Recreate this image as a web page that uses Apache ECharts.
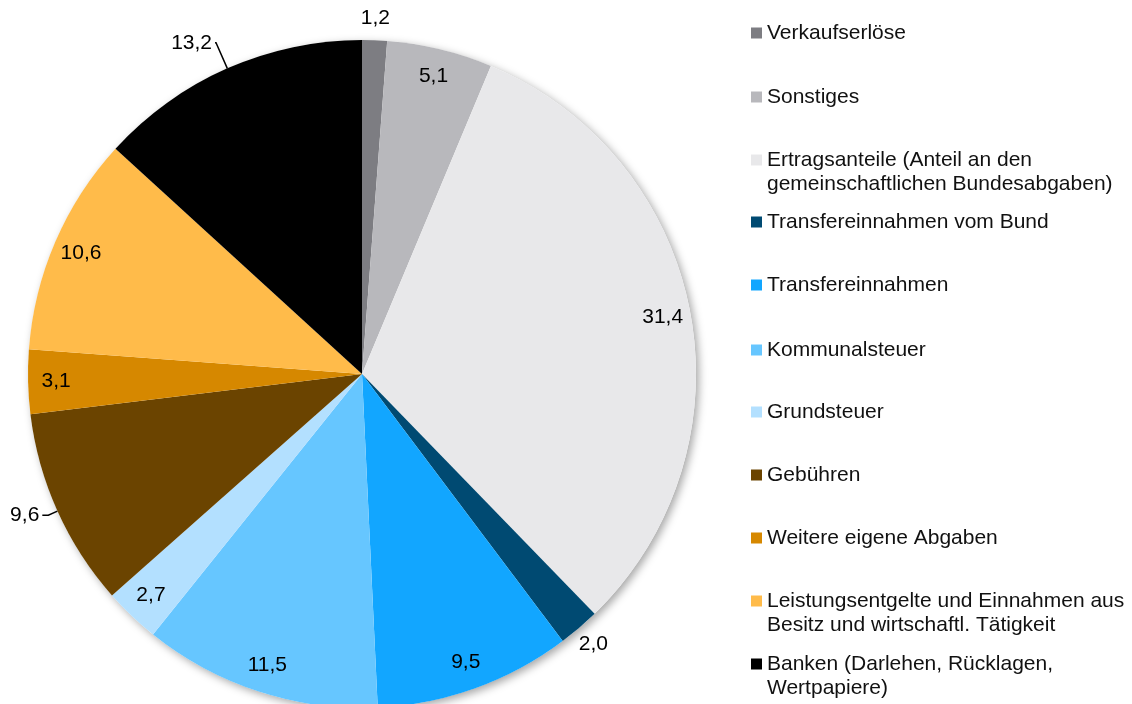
<!DOCTYPE html>
<html>
<head>
<meta charset="utf-8">
<script src="https://cdn.jsdelivr.net/npm/echarts@6/dist/echarts.min.js"></script>
<style>
  html, body { margin: 0; padding: 0; background: #fff; }
  #chart { width: 1132px; height: 704px; }
</style>
</head>
<body>
<div id="chart"></div>
<script>
var names = [
    'Verkaufserlöse',
    'Sonstiges',
    'Ertragsanteile (Anteil an den gemeinschaftlichen Bundesabgaben)',
    'Transfereinnahmen vom Bund',
    'Transfereinnahmen',
    'Kommunalsteuer',
    'Grundsteuer',
    'Gebühren',
    'Weitere eigene Abgaben',
    'Leistungsentgelte und Einnahmen aus Besitz und wirtschaftl. Tätigkeit',
    'Banken (Darlehen, Rücklagen, Wertpapiere)'
];
var legendText = [
    'Verkaufserlöse',
    'Sonstiges',
    'Ertragsanteile (Anteil an den\ngemeinschaftlichen Bundesabgaben)',
    'Transfereinnahmen vom Bund',
    'Transfereinnahmen',
    'Kommunalsteuer',
    'Grundsteuer',
    'Gebühren',
    'Weitere eigene Abgaben',
    'Leistungsentgelte und Einnahmen aus\nBesitz und wirtschaftl. Tätigkeit',
    'Banken (Darlehen, Rücklagen,\nWertpapiere)'
];
var values = [1.2, 5.1, 31.4, 2.0, 9.5, 11.5, 2.7, 9.6, 3.1, 10.6, 13.2];
var colors = ['#7d7d82', '#b8b8bc', '#e8e8ea', '#004a72', '#12a6ff', '#66c6ff',
              '#b3e0ff', '#6b4400', '#d68800', '#ffbb4a', '#000000'];

// label placement: 'in' = near the rim inside, 'out' = just outside, 'line' = with leader line
var labelPlace = ['out', 'in', 'in', 'out', 'in', 'in', 'in', 'line', 'in', 'in', 'line'];

var cx = 362, cy = 374, R = 334;
var fontFamily = 'Arial, "Liberation Sans", sans-serif';

function fmt(p) {
    return p.value.toFixed(1).replace('.', ',');
}

var labelFont = { fontFamily: fontFamily, fontSize: 21, color: '#000' };

var mainData = names.map(function (n, i) {
    var item = { name: n, value: values[i], itemStyle: { color: colors[i] } };
    if (labelPlace[i] === 'line') {
        item.label = { show: true };
        item.labelLine = { show: true };
    }
    return item;
});
// leader line lengths
mainData[10].labelLine.length = 28;
mainData[10].labelLine.length2 = 1;
mainData[7].labelLine.length = 10;
mainData[7].labelLine.length2 = 6;

function ringData(place) {
    return names.map(function (n, i) {
        return {
            name: n,
            value: values[i],
            itemStyle: { color: 'rgba(0,0,0,0)' },
            label: { show: labelPlace[i] === place }
        };
    });
}

// legend rows (first-line centre, px)
var legendRows = [33, 97, 160, 222, 285, 350, 412, 475, 538, 601, 664];
var legends = names.map(function (n, i) {
    var lines = legendText[i].split('\n');
    var twoLines = lines.length > 1;
    return {
        data: [n],
        orient: 'vertical',
        left: 751,
        top: legendRows[i] - (twoLines ? 36 : 12),
        padding: 0,
        itemWidth: 11,
        itemHeight: 11,
        icon: 'rect',
        selectedMode: false,
        formatter: function () {
            // an empty first line keeps the marker level with the first text line
            return twoLines ? '{s| }\n{t|' + lines[0] + '}\n{t|' + lines[1] + '}' : lines[0];
        },
        textStyle: {
            fontFamily: fontFamily,
            fontSize: 21,
            lineHeight: 24,
            color: '#111',
            rich: {
                s: { fontSize: 21, lineHeight: 24 },
                t: { fontFamily: fontFamily, fontSize: 21, lineHeight: 24, color: '#111' }
            }
        }
    };
});

var option = {
    backgroundColor: '#fff',
    animation: false,
    legend: legends,
    series: [
        {
            // soft shadow under the whole pie
            type: 'pie',
            center: [cx, cy],
            radius: R,
            silent: true,
            z: 1,
            label: { show: false },
            labelLine: { show: false },
            itemStyle: {
                color: '#fff',
                shadowBlur: 8,
                shadowColor: 'rgba(0,0,0,0.35)',
                shadowOffsetX: 3,
                shadowOffsetY: 3
            },
            data: [{ name: 'shadow', value: 1 }]
        },
        {
            type: 'pie',
            center: [cx, cy],
            radius: R,
            startAngle: 90,
            clockwise: true,
            z: 2,
            avoidLabelOverlap: false,
            silent: true,
            label: Object.assign({ show: false, position: 'outside', formatter: fmt, distanceToLabelLine: 3 }, labelFont),
            labelLine: { show: false, smooth: false, lineStyle: { color: '#000', width: 1.5 } },
            data: mainData
        },
        {
            type: 'pie',
            center: [cx, cy],
            radius: [R - 62, R],
            z: 3,
            silent: true,
            avoidLabelOverlap: false,
            label: Object.assign({ position: 'inside', formatter: fmt }, labelFont),
            labelLine: { show: false },
            data: ringData('in')
        },
        {
            type: 'pie',
            center: [cx, cy],
            radius: [R, R + 38],
            z: 3,
            silent: true,
            avoidLabelOverlap: false,
            label: Object.assign({ position: 'inside', formatter: fmt }, labelFont),
            labelLine: { show: false },
            data: ringData('out')
        }
    ]
};

var chart = echarts.init(document.getElementById('chart'));
chart.setOption(option);
</script>
</body>
</html>
